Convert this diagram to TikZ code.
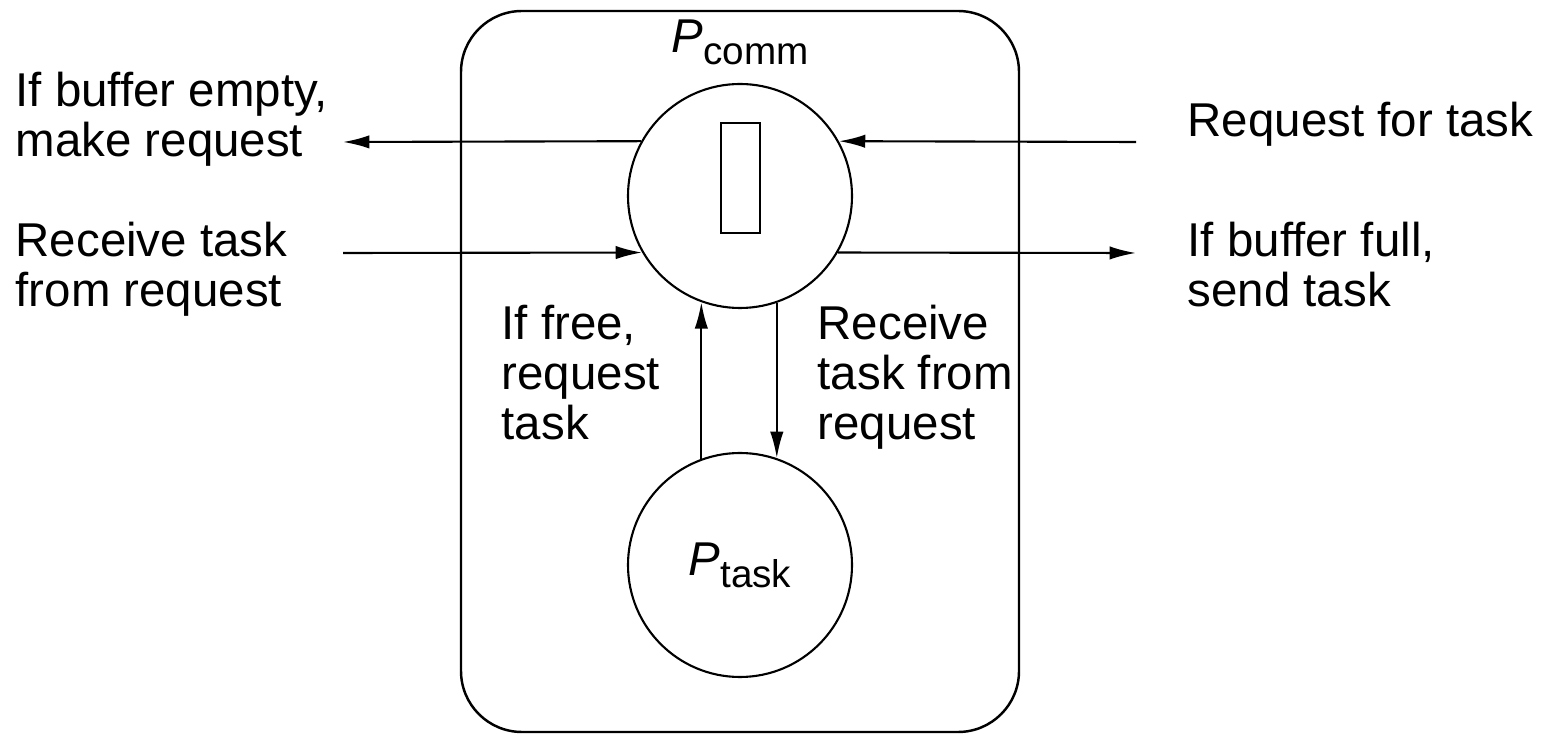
\documentclass[tikz,border=0pt]{standalone}
\usepackage{fontspec}
\setmainfont{Liberation Sans}
\usetikzlibrary{arrows.meta}

% process name with a lowered, smaller index
\newcommand{\pname}[1]{\textit{P}\raisebox{-3.4pt}{\fontsize{11pt}{11pt}\selectfont #1}}

\begin{document}
\begin{tikzpicture}[yscale=-1,
		font=\fontsize{13.5pt}{14.3pt}\selectfont,
		proc/.style={draw, circle, inner sep=0pt, minimum size=2.24cm, line width=0.6pt},
		txt/.style={inner sep=0pt, anchor=base west, align=left},
		flow/.style={-{Latex[length=7.5pt, width=3.8pt]}, line width=0.6pt}]
		\useasboundingbox (0, 0) rectangle (15.56, 7.34);
		% the processor
		\draw[line width=0.7pt, rounded corners=0.61cm] (4.61, 0.11) rectangle (10.19, 7.32);
		\node[anchor=base, inner sep=0pt] (commname) at (7.40, 0.53) {\pname{comm}};
		\node[proc] (comm) at (7.40, 1.96) {};
		\node[draw, line width=0.6pt, inner sep=0pt, minimum width=0.39cm, minimum height=1.10cm] (buf) at (7.405, 1.78) {};
		\node[proc] (task) at (7.40, 5.65) {\raisebox{-1.2pt}{\pname{task}}};
		% outside ends
		\coordinate (emptyend) at (3.43, 1.42);
		\coordinate (recvstart) at (3.43, 2.53);
		\coordinate (reqstart) at (11.36, 1.42);
		\coordinate (fullend) at (11.36, 2.53);
		\draw[flow] (comm.151) -- (emptyend);
		\draw[flow] (recvstart) -- (comm.210);
		\draw[flow] (reqstart) -- (comm.29);
		\draw[flow] (comm.-30) -- (fullend);
		\draw[flow] (task.110) -- (comm.250);
		\draw[flow] (comm.-71) -- (task.71);
		% labels (base is the last line)
		\node[txt] (emptytxt) at (0.15, 1.57) {If buffer empty,\\make request};
		\node[txt] (recvtxt) at (0.15, 3.07) {Receive task\\from request};
		\node[txt] (reqtxt) at (11.87, 1.37) {Request for task};
		\node[txt] (fulltxt) at (11.87, 3.07) {If buffer full,\\send task};
		\node[txt] (freetxt) at (5.01, 4.40) {If free,\\request\\task};
		\node[txt] (gettxt) at (8.17, 4.40) {Receive\\task from\\request};
	\end{tikzpicture}
\end{document}
